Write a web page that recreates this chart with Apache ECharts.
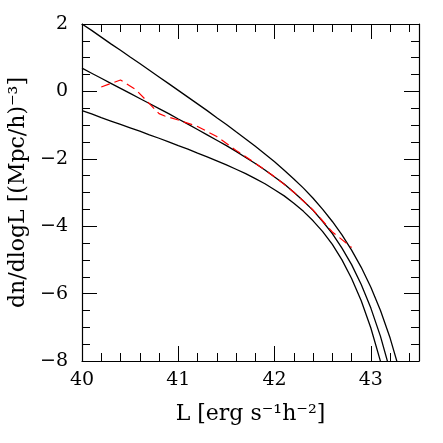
<!DOCTYPE html>
<html>
<head>
<meta charset="utf-8">
<script src="https://cdn.jsdelivr.net/npm/echarts@6/dist/echarts.min.js"></script>
<style>
  html, body { margin: 0; padding: 0; background: #fff; }
  #main { width: 443px; height: 443px; }
</style>
</head>
<body>
<div id="main"></div>
<script>
// luminosity function curves (log L, log dn/dlogL)
var logL = [40.0, 40.1, 40.2, 40.3, 40.4, 40.5, 40.6, 40.7, 40.8, 40.9, 41.0, 41.1, 41.2, 41.3, 41.4, 41.5, 41.6, 41.7, 41.8, 41.9,
            42.0, 42.1, 42.2, 42.3, 42.4, 42.5, 42.6, 42.7, 42.8, 42.9, 43.0, 43.1, 43.2, 43.3];

var upperV = [2.00, 1.81, 1.61, 1.41, 1.22, 1.02, 0.83, 0.63, 0.43, 0.23, 0.03, -0.17, -0.37, -0.57, -0.78, -0.98, -1.20, -1.41, -1.63, -1.86,
              -2.09, -2.34, -2.60, -2.87, -3.17, -3.50, -3.86, -4.26, -4.71, -5.22, -5.81, -6.50, -7.32, -8.30];

var middleV = [0.69, 0.54, 0.39, 0.24, 0.09, -0.06, -0.21, -0.36, -0.51, -0.66, -0.82, -0.97, -1.13, -1.29, -1.45, -1.61, -1.78, -1.96, -2.14, -2.33,
               -2.54, -2.75, -2.99, -3.25, -3.53, -3.86, -4.22, -4.65, -5.14, -5.73, -6.43, -7.27, -8.29];

var lowerV = [-0.57, -0.67, -0.78, -0.88, -0.98, -1.08, -1.18, -1.29, -1.39, -1.50, -1.61, -1.71, -1.83, -1.94, -2.06, -2.18, -2.31, -2.44, -2.59, -2.74,
              -2.92, -3.10, -3.32, -3.56, -3.84, -4.16, -4.54, -5.00, -5.55, -6.21, -7.02, -8.01];

// red dashed (measured)
var redL = [40.2, 40.4, 40.56, 40.8, 40.86, 41.0, 41.2, 41.4, 41.6, 41.8, 42.0, 42.2, 42.4, 42.6, 42.8];
var redV = [0.13, 0.34, 0.05, -0.66, -0.73, -0.85, -1.04, -1.34, -1.75, -2.13, -2.53, -2.99, -3.52, -4.17, -4.63];

var xMin = 40, xMax = 43.5;
var yMin = -8, yMax = 2;

var font = 'DejaVu Serif';

function pairs(xs, ys) {
  // curves may be shorter than the L grid
  return ys.map(function (y, i) { return [xs[i], y]; });
}

function xAxisOf(pos, major, withLabels) {
  return {
    type: 'value',
    position: pos,
    min: xMin,
    max: xMax,
    interval: major ? 1 : 0.2,
    axisLine: { show: major, onZero: false, lineStyle: { color: '#000', width: 1.2 } },
    axisTick: { show: true, inside: true, length: major ? 15 : 8, lineStyle: { color: '#000', width: 1 } },
    axisLabel: {
      show: withLabels,
      margin: 10,
      color: '#000',
      fontFamily: font,
      fontSize: 19,
      showMaxLabel: false,
      formatter: function (v) { return v % 1 === 0 ? String(v) : ''; }
    },
    splitLine: { show: false },
    name: withLabels ? 'L [erg s⁻¹h⁻²]' : '',
    nameLocation: 'middle',
    nameGap: 42,
    nameTextStyle: { color: '#000', fontFamily: font, fontSize: 22 }
  };
}

function yAxisOf(pos, withLabels) {
  return {
    type: 'value',
    position: pos,
    min: yMin,
    max: yMax,
    interval: 2,
    axisLine: { show: true, onZero: false, lineStyle: { color: '#000', width: 1.2 } },
    axisTick: { show: true, inside: true, length: 15, lineStyle: { color: '#000', width: 1 } },
    minorTick: { show: true, splitNumber: 4, length: 8, lineStyle: { color: '#000', width: 1 } },
    axisLabel: {
      show: withLabels,
      margin: 14,
      color: '#000',
      fontFamily: font,
      fontSize: 19,
      formatter: function (v) { return String(v).replace('-', '\u2212'); }
    },
    splitLine: { show: false },
    name: withLabels ? 'dn/dlogL [(Mpc/h)⁻³]' : '',
    nameLocation: 'middle',
    nameRotate: 90,
    nameGap: 48,
    nameTextStyle: { color: '#000', fontFamily: font, fontSize: 22 }
  };
}

function curve(ys) {
  return {
    type: 'line',
    xAxisIndex: 0,
    yAxisIndex: 0,
    data: pairs(logL, ys),
    showSymbol: false,
    clip: true,
    lineStyle: { color: '#000', width: 1.3 }
  };
}

var chart = echarts.init(document.getElementById('main'), null, { renderer: 'canvas' });

chart.setOption({
  backgroundColor: '#fff',
  animation: false,
  grid: { left: 82, top: 24, width: 337, height: 337, containLabel: false, outerBoundsMode: 'none' },
  xAxis: [
    xAxisOf('bottom', true, true),
    xAxisOf('bottom', false, false),
    xAxisOf('top', true, false),
    xAxisOf('top', false, false)
  ],
  yAxis: [
    yAxisOf('left', true),
    yAxisOf('right', false)
  ],
  series: [
    curve(upperV),
    curve(middleV),
    curve(lowerV),
    {
      type: 'line',
      xAxisIndex: 0,
      yAxisIndex: 0,
      data: pairs(redL, redV),
      showSymbol: false,
      clip: true,
      lineStyle: { color: '#ff0000', width: 1.2, type: [9, 5] }
    }
  ]
});
</script>
</body>
</html>
